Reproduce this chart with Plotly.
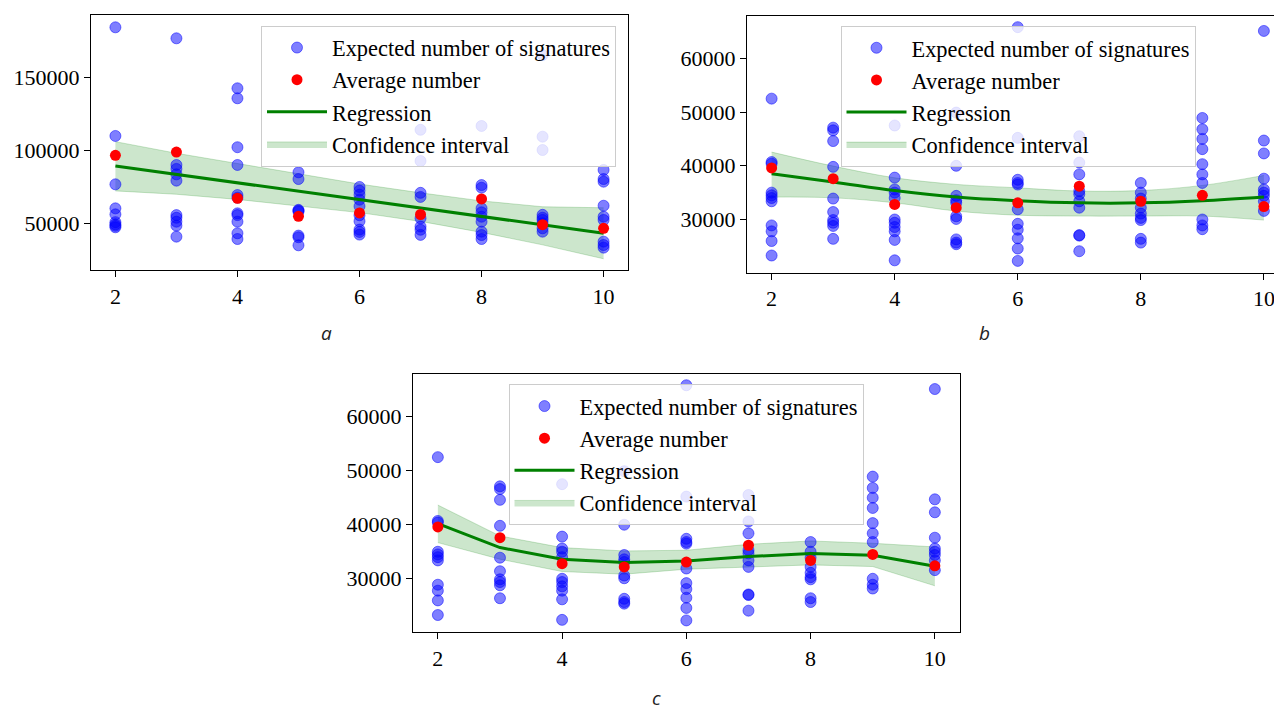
import plotly.graph_objects as go

W, H = 1282, 714

x_vals = [2, 3, 4, 5, 6, 7, 8, 9, 10]

# ---- panel a ----
a_expected = [
    [183900, 109800, 76800, 60400, 56300, 51000, 49500, 48500, 47500],
    [176400, 90000, 87300, 83600, 79300, 55800, 54000, 51300, 48600, 41100],
    [142300, 135500, 102100, 90000, 69500, 67700, 57000, 55800, 51300, 43400, 39500],
    [85000, 80400, 59400, 58800, 58300, 41800, 40700, 35200],
    [75000, 72500, 69700, 66300, 61800, 55700, 51600, 45900, 44300, 42500],
    [114000, 92700, 71000, 68200, 53600, 48000, 45800, 42300],
    [116600, 76300, 74500, 60400, 57700, 54700, 51300, 44500, 42200, 39500],
    [165000, 109300, 100200, 56000, 54000, 52500, 50200, 46800, 44500],
    [86600, 80400, 78600, 62200, 54700, 52500, 37700, 35400, 33600],
]
a_average = [96600, 98800, 67300, 55000, 57300, 56200, 66800, 49300, 46800]
a_regression = [89300, 83600, 77900, 72100, 66400, 60600, 54900, 49100, 43400]
a_ci_upper = [105900, 98000, 91000, 84000, 77000, 71000, 65500, 61500, 60800]
a_ci_lower = [72300, 70000, 66500, 62000, 57500, 51500, 44000, 35500, 26000]

# ---- panels b and c (same observations) ----
bc_expected = [
    [52500, 40700, 40400, 35000, 34500, 34000, 33400, 28900, 27800, 26000, 23300],
    [47100, 46600, 44600, 39800, 33900, 31400, 29900, 29400, 28800, 26400],
    [47500, 37800, 35600, 35000, 34000, 30000, 29400, 28600, 27800, 26200, 22400],
    [49900, 40000, 34400, 33600, 33100, 30600, 30100, 26300, 25700, 25400],
    [65800, 45200, 37400, 36800, 36500, 31900, 29200, 28100, 26500, 24600, 22300],
    [45500, 40600, 38400, 35300, 34700, 33400, 32200, 27100, 27000, 24100],
    [36800, 35000, 33900, 32200, 31100, 30300, 29900, 26400, 25700],
    [48900, 46800, 45000, 43100, 40300, 38400, 36800, 30000, 28900, 28200],
    [65100, 44700, 42300, 37600, 35600, 35000, 34400, 33400, 31600],
]
bc_average = [39600, 37600, 32800, 32200, 33100, 36200, 33400, 34500, 32400]

b_regression = [38500, 37000, 35400, 34200, 33500, 33100, 33100, 33500, 34200]
b_ci_upper = [42550, 39950, 37770, 36540, 35900, 35300, 35400, 36350, 38210]
b_ci_lower = [34170, 34040, 33110, 31570, 30800, 30640, 30640, 30640, 29890]

c_regression = [40200, 35770, 33620, 33000, 33310, 34110, 34660, 34350, 32320]
c_ci_upper = [43640, 37920, 35770, 35150, 35280, 36380, 37000, 36570, 35890]
c_ci_lower = [36690, 33620, 31340, 30850, 31770, 32200, 32570, 32260, 28700]

x_ticks = [2, 4, 6, 8, 10]
a_y_ticks = [50000, 100000, 150000]
bc_y_ticks = [30000, 40000, 50000, 60000]

legend_labels = ["Expected number of signatures", "Average number",
                 "Regression", "Confidence interval"]
panel_labels = ["a", "b", "c"]

SERIF = "Liberation Serif"
BLUE = "rgba(0,0,255,0.5)"
GREEN = "#008000"
FILL = "rgba(0,128,0,0.2)"

fig = go.Figure()


def add_panel(i, expected, average, reg, upper, lower, shape):
    xa = "x" if i == 1 else f"x{i}"
    ya = "y" if i == 1 else f"y{i}"
    lg = "legend" if i == 1 else f"legend{i}"
    xs, ys = [], []
    for xv, col in zip(x_vals, expected):
        xs += [xv] * len(col)
        ys += col
    # confidence band
    fig.add_trace(go.Scatter(x=x_vals, y=lower, mode="lines", xaxis=xa, yaxis=ya,
                             line=dict(color=FILL, width=1, shape=shape),
                             showlegend=False, legend=lg, hoverinfo="skip"))
    fig.add_trace(go.Scatter(x=x_vals, y=upper, mode="lines", xaxis=xa, yaxis=ya,
                             fill="tonexty", fillcolor=FILL,
                             line=dict(color=FILL, width=1, shape=shape),
                             name=legend_labels[3], legend=lg, legendrank=4))
    fig.add_trace(go.Scatter(x=xs, y=ys, mode="markers", xaxis=xa, yaxis=ya,
                             marker=dict(size=11, color=BLUE,
                                         line=dict(color=BLUE, width=1)),
                             name=legend_labels[0], legend=lg, legendrank=1))
    fig.add_trace(go.Scatter(x=x_vals, y=reg, mode="lines", xaxis=xa, yaxis=ya,
                             line=dict(color=GREEN, width=3, shape=shape),
                             name=legend_labels[2], legend=lg, legendrank=3))
    fig.add_trace(go.Scatter(x=x_vals, y=average, mode="markers", xaxis=xa, yaxis=ya,
                             marker=dict(size=11, color="red"),
                             name=legend_labels[1], legend=lg, legendrank=2))


add_panel(1, a_expected, a_average, a_regression, a_ci_upper, a_ci_lower, "linear")
add_panel(2, bc_expected, bc_average, b_regression, b_ci_upper, b_ci_lower, "spline")
add_panel(3, bc_expected, bc_average, c_regression, c_ci_upper, c_ci_lower, "linear")


def px_x(a, b):
    return [a / W, b / W]


def px_y(top, bottom):
    return [1 - bottom / H, 1 - top / H]


axis_common = dict(showline=True, mirror=True, linecolor="black", linewidth=1.3,
                   ticks="outside", ticklen=6, tickwidth=1.3, tickcolor="black",
                   showgrid=False, zeroline=False,
                   tickfont=dict(family=SERIF, size=22, color="black"))

layout = dict(width=W, height=H, margin=dict(l=0, r=0, t=0, b=0),
              paper_bgcolor="white", plot_bgcolor="white", showlegend=True)

# domains (pixels)
doms = {
    1: ((83, 620), (7, 262), [1.6, 10.4], [18350, 192300], a_y_ticks),
    2: ((739, 1280.5), (8, 264.7), [1.6, 10.4], [20100, 67880], bc_y_ticks),
    3: ((405, 951.7), (366, 624.3), [1.6, 10.4], [20100, 67880], bc_y_ticks),
}
for i, ((x0, x1), (y0, y1), xr, yr, yt) in doms.items():
    xk = "xaxis" if i == 1 else f"xaxis{i}"
    yk = "yaxis" if i == 1 else f"yaxis{i}"
    ya = "y" if i == 1 else f"y{i}"
    xa = "x" if i == 1 else f"x{i}"
    layout[xk] = dict(axis_common, domain=px_x(x0, x1), range=xr, anchor=ya,
                      tickvals=x_ticks, ticktext=[str(t) for t in x_ticks])
    layout[yk] = dict(axis_common, domain=px_y(y0, y1), range=yr, anchor=xa,
                      tickvals=yt, ticktext=[str(t) for t in yt])

legend_common = dict(bgcolor="rgba(255,255,255,0.8)", bordercolor="#cccccc",
                     borderwidth=1, font=dict(family=SERIF, size=22.4, color="black"),
                     itemwidth=60, yanchor="top", traceorder="normal")
layout["legend"] = dict(legend_common, x=608 / W, xanchor="right", y=1 - 17.5 / H)
layout["legend2"] = dict(legend_common, x=1010 / W, xanchor="center", y=1 - 17.7 / H)
layout["legend3"] = dict(legend_common, x=678 / W, xanchor="center", y=1 - 376 / H)

# panel captions: (x centre, y, vertical anchor) in pixels
label_pos = [(318, 325, "middle"), (976, 325, "middle"), (648, 705, "bottom")]
annotations = []
for txt, (px, py, anc) in zip(panel_labels, label_pos):
    annotations.append(dict(text=f"<i>{txt}</i>", x=px / W, y=1 - py / H,
                            xref="paper", yref="paper", showarrow=False,
                            xanchor="center", yanchor=anc,
                            font=dict(family="Open Sans", size=19, color="#222222")))
layout["annotations"] = annotations

fig.update_layout(layout)
fig.write_html("out.html")
